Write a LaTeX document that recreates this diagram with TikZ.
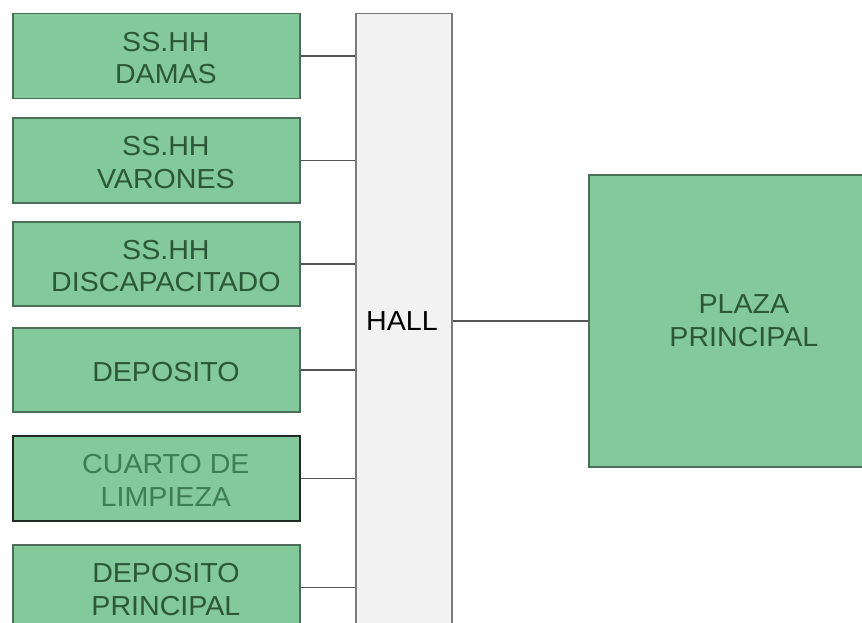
\documentclass[tikz,border=0pt]{standalone}
\usepackage{fontspec}
\setmainfont[FakeStretch=1.04]{Liberation Sans}
\definecolor{roomfill}{HTML}{83C99B}
\definecolor{roomborder}{HTML}{4A6E59}
\definecolor{roomtext}{HTML}{2A5838}
\definecolor{darkborder}{HTML}{1F2B23}
\definecolor{lighttext}{HTML}{3F7D54}
\definecolor{hallfill}{HTML}{F2F2F2}
\definecolor{hallborder}{HTML}{7A7A7A}
\definecolor{linkcol}{HTML}{555555}
\begin{document}
\begin{tikzpicture}[x=1pt,y=-1pt,
  room/.style={draw=roomborder, line width=1.8pt, fill=roomfill,
    minimum width=287pt, minimum height=85pt, anchor=north west, inner sep=0pt},
  roomlabel/.style={text=roomtext, align=center, font=\fontsize{27.5}{32.5}\selectfont,
    inner sep=0pt, xshift=9.5pt, yshift=-2pt},
  hallbox/.style={draw=hallborder, line width=1.5pt, fill=hallfill,
    minimum width=96pt, minimum height=700pt, anchor=north west, inner sep=0pt},
  halltext/.style={font=\fontsize{27.5}{32}\selectfont, text=black},
  link/.style={draw=linkcol, line width=1.3pt}]
\useasboundingbox (0,0) rectangle (862,622);
\clip (0,0) rectangle (862,622);
\fill[white] (0,0) rectangle (862,622);
\node[room, label={[roomlabel]center:SS.HH\\DAMAS}] (b1) at (12,12.5) {};
\node[room, label={[roomlabel]center:SS.HH\\VARONES}] (b2) at (12,117) {};
\node[room, minimum height=84pt, label={[roomlabel]center:SS.HH\\DISCAPACITADO}] (b3) at (12,221) {};
\node[room, minimum height=84pt, label={[roomlabel]center:DEPOSITO}] (b4) at (12,327) {};
\node[room, draw=darkborder, label={[roomlabel, text=lighttext]center:CUARTO DE\\LIMPIEZA}] (b5) at (12,435) {};
\node[room, label={[roomlabel]center:DEPOSITO\\PRINCIPAL}] (b6) at (12,544) {};
\node[hallbox] (hall) at (355,12.5) {};
\node[halltext] (hallt) at (402,321) {HALL};
\node[room, minimum width=310pt, minimum height=292pt, label={[roomlabel, xshift=-9.5pt, yshift=2pt]center:PLAZA\\PRINCIPAL}] (plaza) at (588,174) {};
\foreach \b in {b1,b2,b3,b4,b5,b6}{
  \draw[link] (\b.east) -- (\b.east -| hall.west);
}
\draw[link] (hall.east |- plaza.west) -- (plaza.west);
\end{tikzpicture}
\end{document}
